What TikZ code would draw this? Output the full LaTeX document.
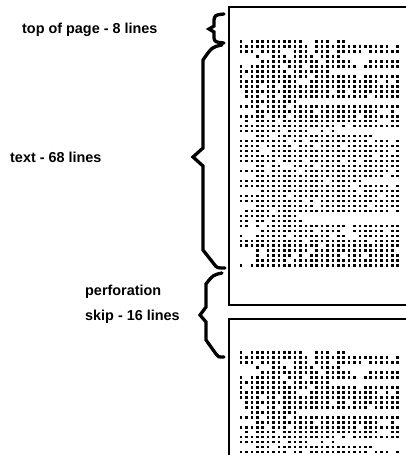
\documentclass[tikz,border=0pt]{standalone}
\usepackage{fontspec}
\setmainfont{Liberation Sans}
\begin{document}
\begin{tikzpicture}[x=1pt,y=-1pt,
  label/.style={anchor=base west,inner sep=0pt,font=\fontsize{14.4}{17}\selectfont\bfseries},
  pageedge/.style={line width=2.2pt},
  bracepath/.style={line width=3.3pt,line join=miter,line cap=round},
  dot/.style={fill=black}]
\useasboundingbox (0,0) rectangle (405,455);
% pages
\draw[pageedge] (412,7) -- (229,7) -- (229,305) -- (412,305);
\draw[pageedge] (412,319) -- (229,319) -- (229,460);
% dot-matrix text
\newcommand{\dotrows}[2]{%
  \pgfmathsetseed{7}%
  \foreach \r in {0,...,#2}{%
    \pgfmathsetmacro{\ind}{rnd<0.22 ? 3 : 0}%
    \pgfmathsetmacro{\len}{rnd<0.25 ? random(9,25) : 29}%
    \foreach \c in {0,...,29}{%
      \pgfmathsetmacro{\keep}{(\c>=\ind && \c<=\len && rnd>0.12) ? 1 : 0}%
      \ifdim\keep pt>0.5pt \fill[dot] (239.8+\c*5.4,42.8+#1+\r*4.98) rectangle +(2.5,-2.5); \fi
    }%
  }%
}
\dotrows{0}{45}
\dotrows{311}{20}
% braces
\draw[bracepath] (224,14) .. controls (215,15) .. (214,20) -- (214,26) -- (209,29) -- (214,32) -- (214,38) .. controls (215,42) .. (224,43);
\draw[bracepath] (222,45) .. controls (212,47) .. (203,60) -- (203,148) -- (193,157) -- (203,166) -- (203,250) -- (214,264) .. controls (217,268) .. (225,268);
\draw[bracepath] (222,273) .. controls (213,275) .. (206,284) -- (206,307) -- (200,315) -- (206,322) -- (206,340) -- (216,354) .. controls (218,357) .. (224,357);
% labels
\node[label] (top) at (22,33) {top of page - 8 lines};
\node[label] (txt) at (10,162) {text - 68 lines};
\node[label] (perf) at (85,295) {perforation};
\node[label] (skip) at (85,320) {skip - 16 lines};
\end{tikzpicture}
\end{document}
